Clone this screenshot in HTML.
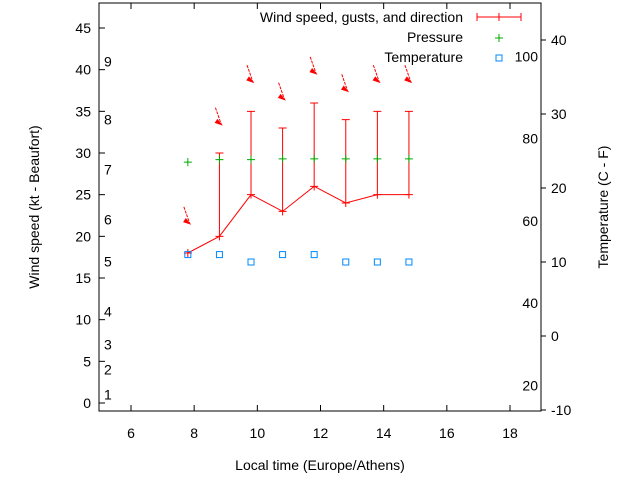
<!DOCTYPE html>
<html><head><meta charset="utf-8"><style>
body{margin:0;background:#fff}
svg{font-family:"Liberation Sans",sans-serif;font-size:14px}
</style></head><body>
<svg id="c" width="640" height="480"></svg>
<script>
const times=[7.8,8.8,9.8,10.8,11.8,12.8,13.8,14.8];
const wind=[18,20,25,23,26,24,25,25];
const gusts=[18,30,35,33,36,34,35,35];
const pressure=[28.9,29.2,29.2,29.3,29.3,29.3,29.3,29.3];
const tempC=[11,11,10,11,11,10,10,10];
const arrowY=[21.5,33.4,38.5,36.4,39.5,37.4,38.5,38.5];
const xTicks=[6,8,10,12,14,16,18];
const yTicks=[0,5,10,15,20,25,30,35,40,45];
const y2Ticks=[-10,0,10,20,30,40];
const fTicks=[20,40,60,80,100];
const bft=[[1,1],[2,4],[3,7],[4,11],[5,17],[6,22],[7,28],[8,34],[9,41]];
const L=99,R=541,T=3,B=411;
const X=v=>131+(v-6)*(379/12);
const Y=v=>403-v*(375/45);
const Y2=c=>336-c*7.4;
const s=document.getElementById('c');
function el(t,a,txt){const e=document.createElementNS('http://www.w3.org/2000/svg',t);for(const k in a)e.setAttribute(k,a[k]);if(txt!==undefined)e.textContent=txt;s.appendChild(e);return e;}
let e;
e=el('rect',{x:L,y:T,width:R-L,height:B-T,fill:'none',stroke:'#000'});


xTicks.forEach(v=>{const x=X(v);
e=el('path',{d:`M${x} ${B}v-6M${x} ${T}v6`,stroke:'#000'});


e=el('text',{x:x,y:B+27,'text-anchor':'middle'},v);

});
yTicks.forEach(v=>{const y=Y(v);
e=el('path',{d:`M${L} ${y}h6`,stroke:'#000'});


e=el('text',{x:L-8,y:y+5,'text-anchor':'end'},v);

});
y2Ticks.forEach(v=>{const y=Y2(v);
e=el('path',{d:`M${R} ${y}h5`,stroke:'#000'});


e=el('text',{x:R+10,y:y+5},v);

});
fTicks.forEach(f=>{const y=Y2((f-32)*5/9);
e=el('text',{x:R-3,y:y+5,'text-anchor':'end'},f);

});
bft.forEach(([b,v])=>{
e=el('text',{x:104,y:Y(v)+5},b);

});
e=el('text',{x:320,y:470,'text-anchor':'middle'},'Local time (Europe/Athens)');


e=el('text',{x:39,y:207,'text-anchor':'middle',transform:'rotate(-90 39 207)'},'Wind speed (kt - Beaufort)');


e=el('text',{x:608,y:207,'text-anchor':'middle',transform:'rotate(-90 608 207)'},'Temperature (C - F)');


e=el('polyline',{points:times.map((t,i)=>X(t)+','+Y(wind[i])).join(' '),fill:'none',stroke:'#f00'});


times.forEach((t,i)=>{const x=X(t),y1=Y(wind[i]),y2=Y(gusts[i]);
e=el('path',{d:`M${x} ${y1}V${y2}M${x-4} ${y2}h8M${x-4} ${y1}h8M${x} ${y1-4}v8`,stroke:'#f00',fill:'none'});


const py=Y(pressure[i]);
e=el('path',{d:`M${x-4} ${py}h8M${x} ${py-4}v8`,stroke:'#0a0'});


const ty=Y2(tempC[i]);
e=el('rect',{x:x-3,y:ty-3,width:6,height:6,fill:'none',stroke:'#08f'});


const ay=Y(arrowY[i]),ax=x+2;
e=el('path',{d:`M${ax-6} ${ay-17}L${ax} ${ay}`,stroke:'#f00','stroke-dasharray':'3,1'});


e=el('path',{d:`M${ax} ${ay}l-6 -2l2 -3z`,fill:'#f00',stroke:'#f00'});


});
e=el('text',{x:463,y:22,'text-anchor':'end'},'Wind speed, gusts, and direction');


e=el('path',{d:'M477 17h44M477 13v8M521 13v8M499 13v8',stroke:'#f00'});


e=el('text',{x:463,y:42,'text-anchor':'end'},'Pressure');


e=el('path',{d:'M495 38h8M499 34v8',stroke:'#0a0'});


e=el('text',{x:463,y:62,'text-anchor':'end'},'Temperature');


e=el('rect',{x:496,y:55,width:6,height:6,fill:'none',stroke:'#08f'});


</script>
</body></html>
